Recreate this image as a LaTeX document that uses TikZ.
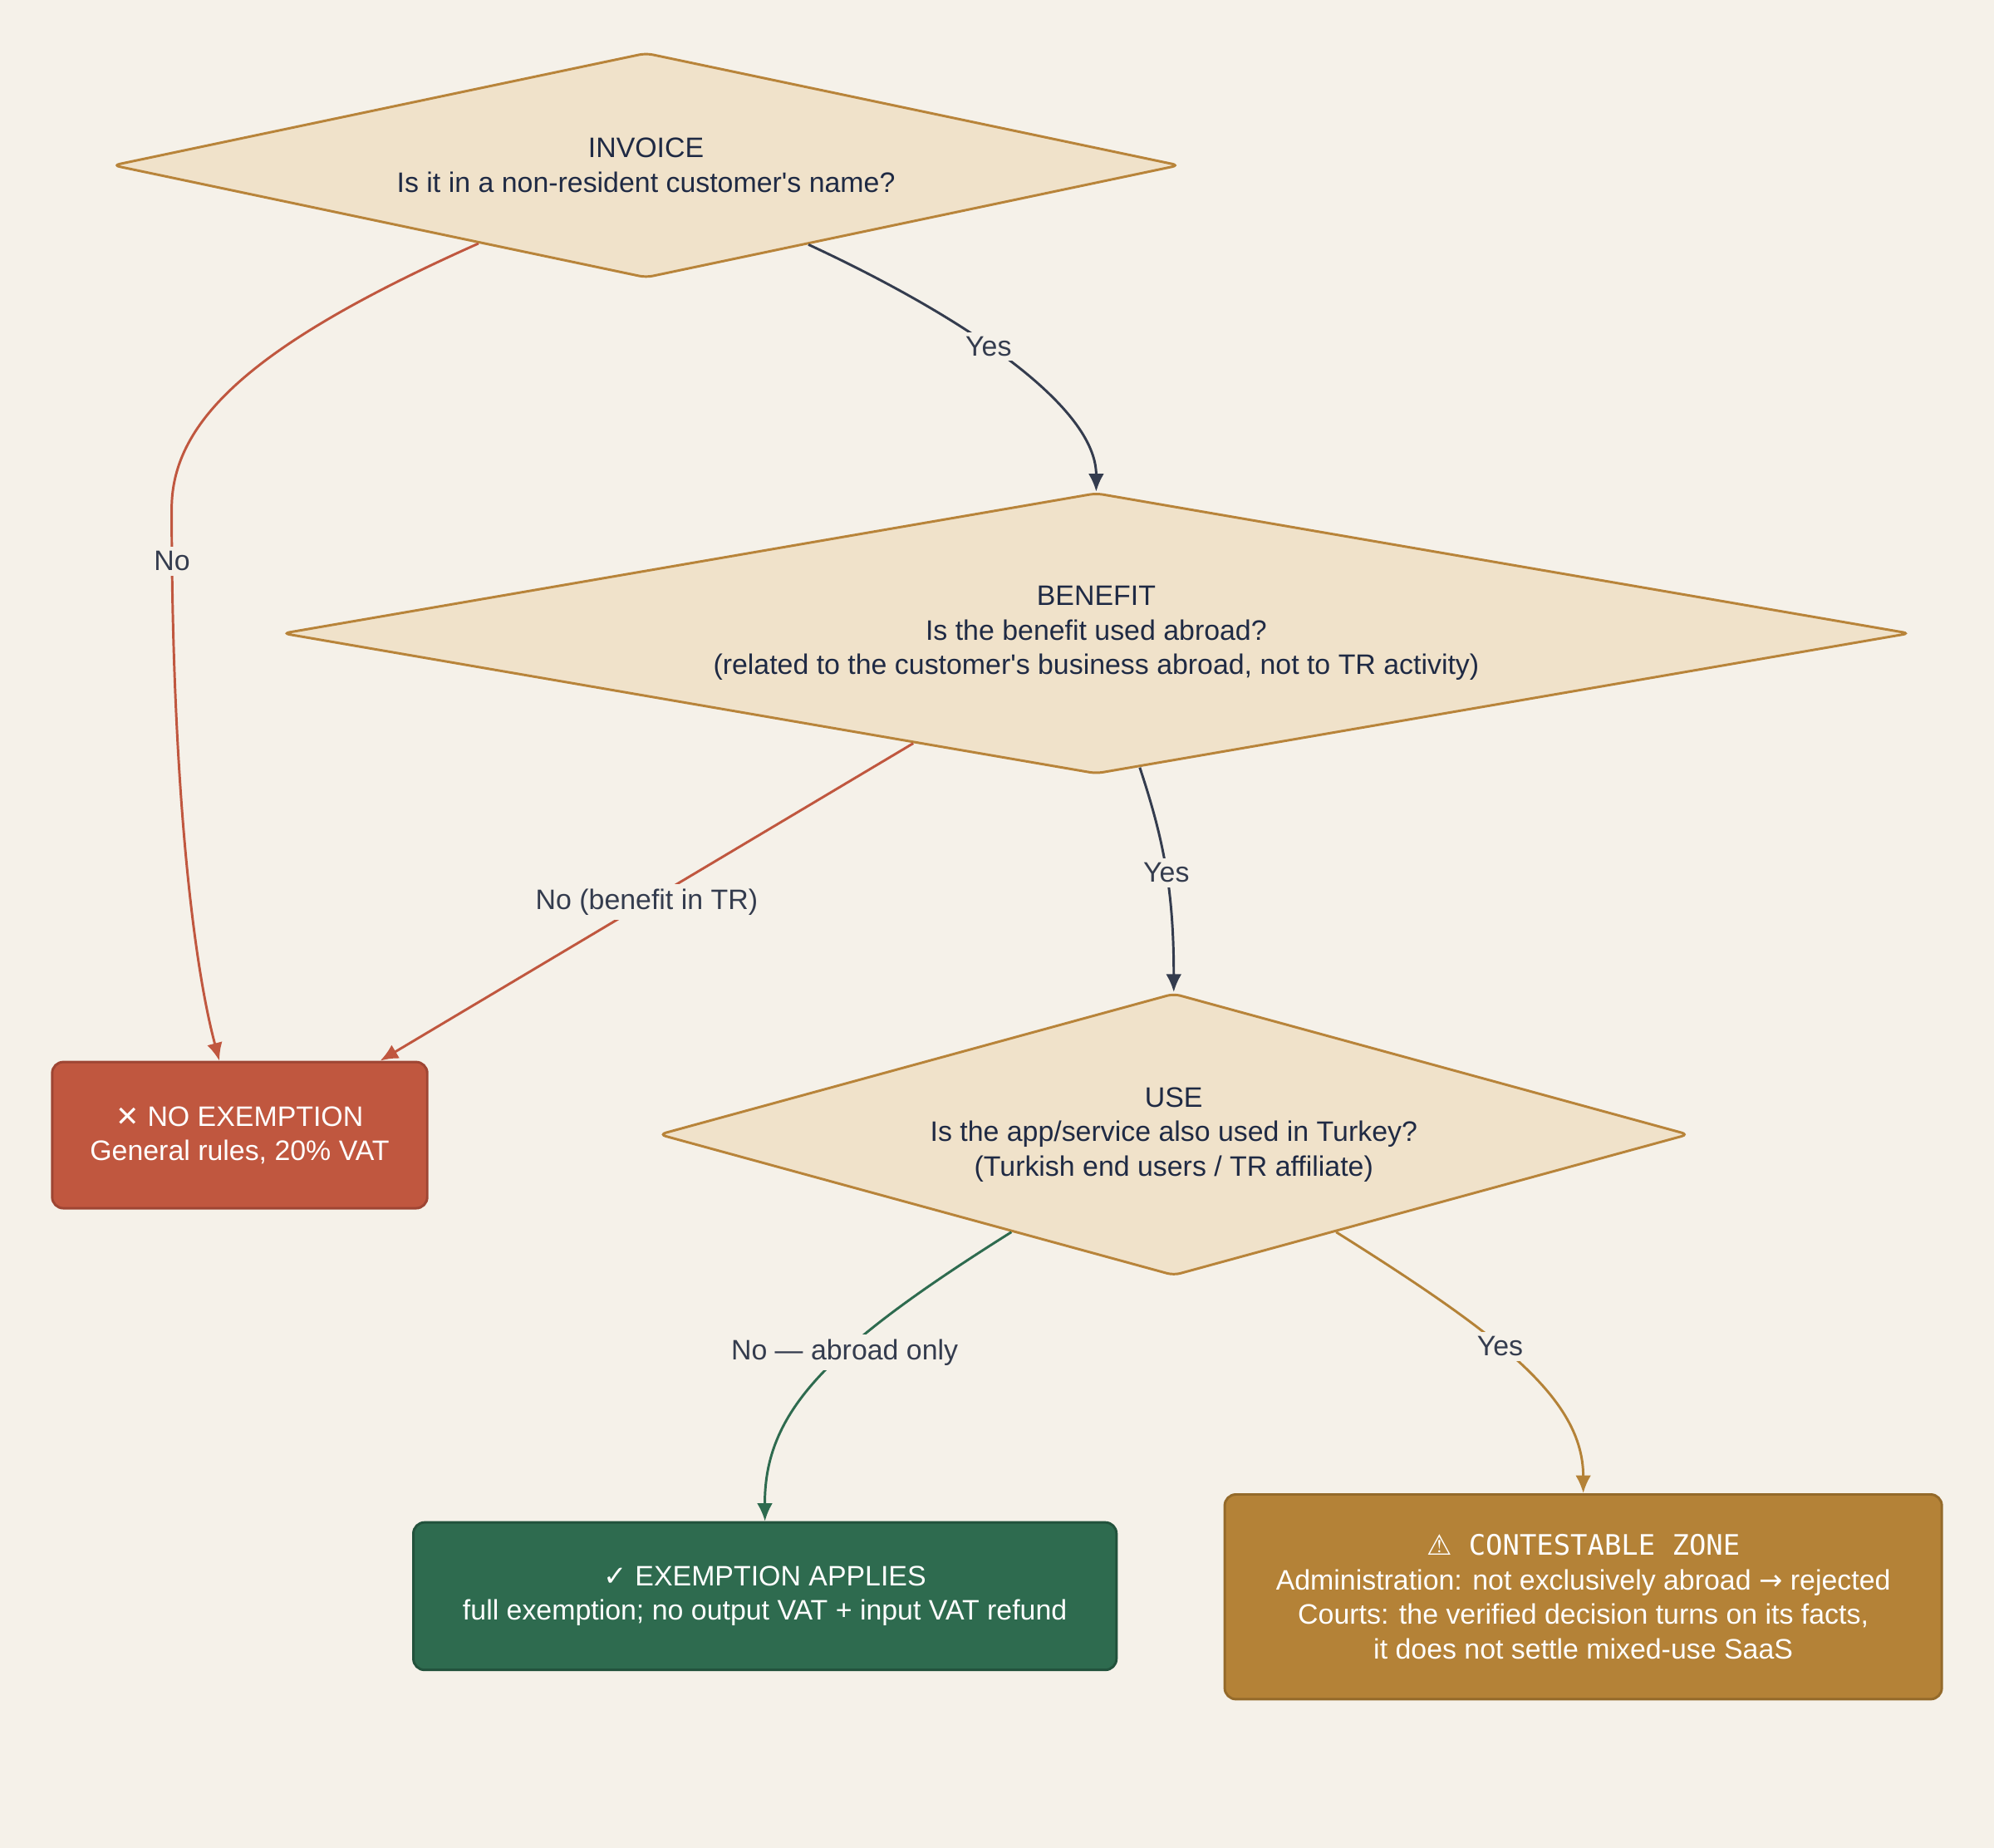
\documentclass[tikz,border=0pt]{standalone}
\usepackage{fontspec}
\setmainfont{Liberation Sans}
\newfontfamily\symfont{DejaVu Sans}
\newfontfamily\monofont{DejaVu Sans Mono}
\usetikzlibrary{shapes.geometric,arrows.meta}
\definecolor{bgcol}{HTML}{F5F1E9}
\definecolor{qfill}{HTML}{F0E2CA}
\definecolor{qdraw}{HTML}{B8843A}
\definecolor{qtext}{HTML}{1F2A44}
\definecolor{redbox}{HTML}{C0573F}
\definecolor{redline}{HTML}{9E4533}
\definecolor{greenbox}{HTML}{2E6B4F}
\definecolor{greenline}{HTML}{22523C}
\definecolor{goldbox}{HTML}{B48237}
\definecolor{goldline}{HTML}{946A2A}
\definecolor{darkline}{HTML}{343C4E}
\newcommand{\apos}{\textquotesingle}
\begin{document}
\begin{tikzpicture}[x=0.02cm,y=-0.02cm,
	question/.style={diamond, draw=qdraw, fill=qfill, line width=1.1pt, text=qtext, align=center, inner sep=0pt, rounded corners=3pt},
	result/.style={rectangle, rounded corners=5pt, line width=1.1pt, text=white, align=center},
	edge/.style={line width=1.1pt, -{Latex[length=8pt,width=7pt]}},
	tag/.style={fill=bgcol, text=darkline, inner sep=2pt},
	font=\fontsize{12.6}{15.4}\selectfont]
	\fill [bgcol] (0,0) rectangle (1568,1453);
	\useasboundingbox (0,0) rectangle (1568,1453);
	
	\node [question, aspect=4.74, minimum width=16.78cm, minimum height=3.54cm] (invoice) at (508,130) {INVOICE\\Is it in a non-resident customer\apos s name?};
	\node [question, aspect=5.79, minimum width=25.6cm, minimum height=4.42cm] (benefit) at (862,498) {BENEFIT\\Is the benefit used abroad?\\(related to the customer\apos s business abroad, not to TR activity)};
	\node [question, aspect=3.65, minimum width=16.2cm, minimum height=4.44cm] (use) at (923,892) {USE\\Is the app/service also used in Turkey?\\(Turkish end users / TR affiliate)};
	
	\node [result, fill=redbox, draw=redline, minimum width=5.9cm, minimum height=2.3cm] (noex) at (188.5,892.5) {{\symfont\char"2715} NO EXEMPTION\\General rules, 20\% VAT};
	\node [result, fill=greenbox, draw=greenline, minimum width=11.06cm, minimum height=2.32cm] (exempt) at (601.5,1255) {{\symfont\char"2713} EXEMPTION APPLIES\\full exemption; no output VAT + input VAT refund};
	\node [result, fill=goldbox, draw=goldline, minimum width=11.28cm, minimum height=3.22cm] (contest) at (1245,1255.5) {{\monofont{\symfont\char"26A0} CONTESTABLE ZONE}\\Administration: not exclusively abroad {\symfont\char"2192} rejected\\Courts: the verified decision turns on its facts,\\it does not settle mixed-use SaaS};
	
	% yes branches
	\draw [edge, darkline] (invoice.-26) .. controls (760,250) and (862,320) .. node [tag, pos=0.43] {Yes} (benefit.north);
	\draw [edge, darkline] (benefit.-72) .. controls (915,660) and (923,700) .. node [tag, pos=0.52] {Yes} (use.north);
	\draw [edge, goldbox] (use.-31) .. controls (1180,1050) and (1245,1100) .. node [tag, pos=0.42] {Yes} (contest.north);
	
	% no branches
	\draw [edge, redbox] (invoice.-155) .. controls (200,270) and (135,330) .. (135,400) .. controls (135,600) and (150,750) .. node [tag, pos=0.07] {No} ([xshift=-0.32cm]noex.north);
	\draw [edge, redbox] (benefit.-149) -- node [tag, pos=0.5] {No (benefit in TR)} ([xshift=-0.76cm]noex.north east);
	\draw [edge, greenbox] (use.-149) .. controls (650,1060) and (601,1110) .. node [tag, pos=0.4] {No --- abroad only} (exempt.north);
\end{tikzpicture}
\end{document}
